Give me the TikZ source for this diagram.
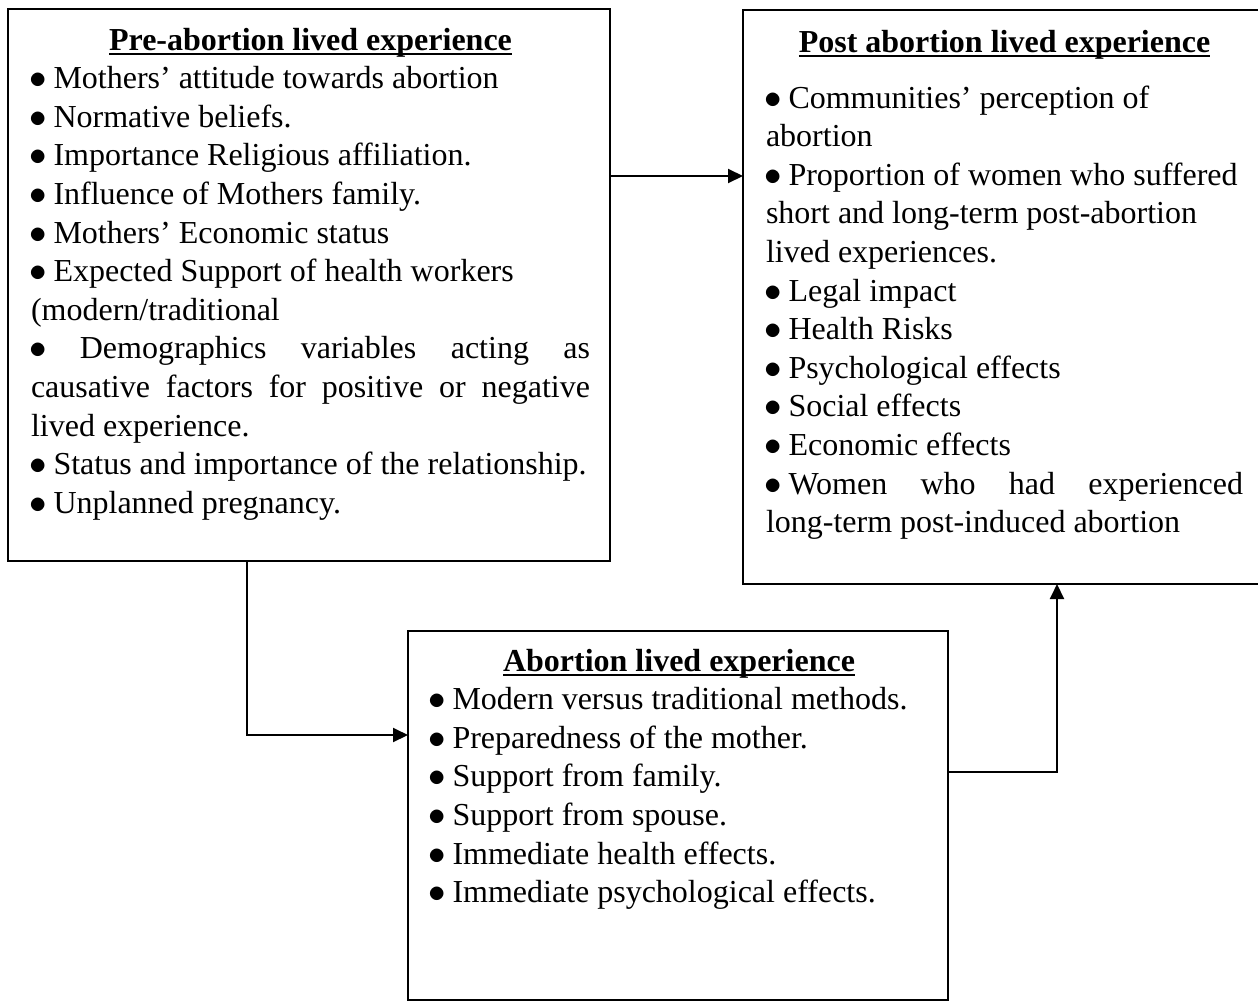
\documentclass[tikz,border=0pt]{standalone}
\usepackage{fontspec}
\setmainfont{Liberation Serif}
\usetikzlibrary{arrows.meta, positioning}
\setlength{\parindent}{0pt}
\newcommand{\itm}{\makebox[14.5pt][l]{\hspace{-2pt}\scalebox{1.4}{$\bullet$}}\ }
\newcommand{\hd}[1]{\setbox0\hbox{\bfseries #1}\rlap{\rule[-5pt]{\wd0}{2.5pt}}\box0}

\begin{document}
\begin{tikzpicture}[->,>={Triangle[length=15pt,width=14pt]},x=1pt,y=-1pt,line width=2pt]
  \tikzstyle{panel}=[draw,rectangle,inner sep=0pt,outer sep=0pt,anchor=north west]
  \tikzstyle{txt}=[inner sep=0pt,align=justify,font=\fontsize{32}{38.6}\selectfont]
  \useasboundingbox (0,0) rectangle (1258,1002);
  \node[panel,minimum width=602pt,minimum height=552pt] (pre) at (8,9) {};
  \node[panel,minimum width=521pt,minimum height=574pt] (post) at (743,10) {};
  \node[panel,minimum width=540pt,minimum height=369pt] (during) at (408,631) {};
  \node[txt,text width=559pt,below right=13pt and 22pt of pre.north west] (pretext) {%
    \centerline{\strut\hd{Pre-abortion lived experience}}
    \itm Mothers’ attitude towards abortion\\
    \itm Normative beliefs.\\
    \itm Importance Religious affiliation.\\
    \itm Influence of Mothers family.\\
    \itm Mothers’ Economic status\\
    \itm Expected Support of health workers\\
    (modern/traditional\\
    \itm Demographics variables acting as\linebreak causative factors for positive or negative\linebreak lived experience.\\
    \itm Status and importance of the relationship.\\
    \itm Unplanned pregnancy.};
  \node[txt,text width=477pt,below right=14pt and 22pt of post.north west] (posttext) {%
    \centerline{\strut\hd{Post abortion lived experience}}\\[17.4pt]
    \itm Communities’ perception of\\
    abortion\\
    \itm Proportion of women who suffered\\
    short and long-term post-abortion\\
    lived experiences.\\
    \itm Legal impact\\
    \itm Health Risks\\
    \itm Psychological effects\\
    \itm Social effects\\
    \itm Economic effects\\
    \mbox{\itm Women} who had experienced\linebreak long-term post-induced abortion};
  \node[txt,text width=498pt,below right=12pt and 21pt of during.north west] (duringtext) {%
    \centerline{\strut\hd{Abortion lived experience}}
    \itm Modern versus traditional methods.\\
    \itm Preparedness of the mother.\\
    \itm Support from family.\\
    \itm Support from spouse.\\
    \itm Immediate health effects.\\
    \itm Immediate psychological effects.};
  % connectors
  \coordinate (a1) at (0,176);
  \coordinate (a2) at (247,735);
  \coordinate (a3) at (1057,772);
  \draw (pre.east |- a1) -- (post.west |- a1);
  \draw (pre.south -| a2) |- (during.west |- a2);
  \draw (during.east |- a3) -| (post.south -| a3);
\end{tikzpicture}
\end{document}
